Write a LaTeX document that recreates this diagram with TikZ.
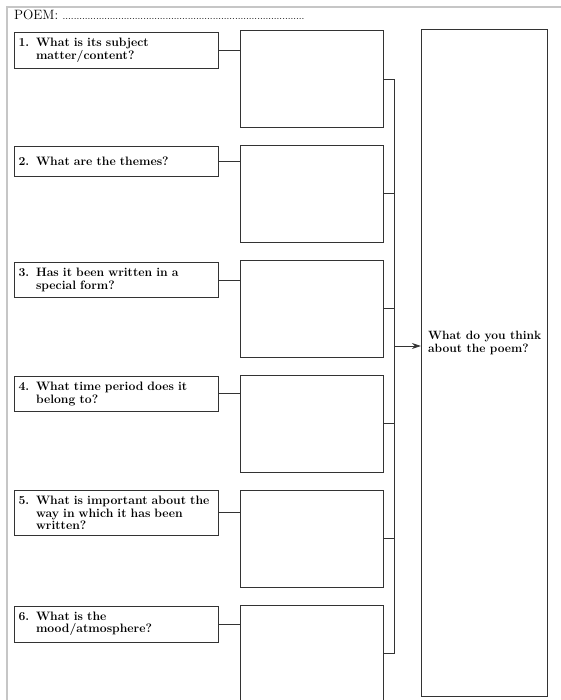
\documentclass[tikz,border=0pt]{standalone}
\usetikzlibrary{positioning,arrows.meta}

\tikzset{
  qbox/.style={draw=black!80, line width=0.9pt, text width=196pt, inner xsep=4pt, inner ysep=6pt,
    minimum height=30pt, align=left, anchor=north east,
    font=\fontsize{12.2}{12.5}\selectfont\bfseries},
  abox/.style={draw=black!80, line width=0.9pt, minimum width=143pt, minimum height=97pt, inner sep=0pt},
  link/.style={draw=black!80, line width=0.8pt},
}
\newcommand{\qnum}[1]{\makebox[17.5pt][l]{#1}}

\begin{document}
\begin{tikzpicture}[x=1pt,y=-1pt]
  \useasboundingbox (0,0) rectangle (561,700);
  % page frame
  \draw[gray!45, line width=1.6pt] (561,7) -- (7,7) -- (7,700);

  \node[anchor=base west, inner sep=0pt, font=\fontsize{13.5}{14}\selectfont] (poem) at (14,20)
    {POEM: {\fontsize{10}{12}\selectfont.......................................................................................}};

  % answer boxes
  \node[abox, anchor=north west] (a1) at (240,30) {};
  \node[abox] (a2) [below=17pt of a1] {};
  \node[abox] (a3) [below=17pt of a2] {};
  \node[abox] (a4) [below=17pt of a3] {};
  \node[abox] (a5) [below=17pt of a4] {};
  \node[abox] (a6) [below=17pt of a5] {};

  \node[abox, minimum width=126pt, minimum height=667pt, anchor=north west] (view)
    at ([xshift=37pt,yshift=1pt]a1.north east) {};

  % questions
  \node[qbox] (q1) at ([xshift=-21pt,yshift=-2pt]a1.north west)
    {\qnum{1.}What is its subject\\\qnum{}matter/content?};
  \node[qbox] (q2) at ([xshift=-21pt,yshift=-1pt]a2.north west)
    {\qnum{2.}What are the themes?};
  \node[qbox] (q3) at ([xshift=-21pt,yshift=-2pt]a3.north west)
    {\qnum{3.}Has it been written in a\\\qnum{}special form?};
  \node[qbox] (q4) at ([xshift=-21pt,yshift=-1pt]a4.north west)
    {\qnum{4.}What time period does it\\\qnum{}belong to?};
  \node[qbox] (q5) at ([xshift=-21pt]a5.north west)
    {\qnum{5.}What is important about the\\\qnum{}way in which it has been\\\qnum{}written?};
  \node[qbox] (q6) at ([xshift=-21pt,yshift=-1pt]a6.north west)
    {\qnum{6.}What is the\\\qnum{}mood/atmosphere?};

  \draw[link] (q1.east) -- (q1.east -| a1.west);
  \draw[link] (q2.east) -- (q2.east -| a2.west);
  \draw[link] (q3.east) -- (q3.east -| a3.west);
  \draw[link] (q4.east) -- (q4.east -| a4.west);
  \draw[link] (q5.east) -- (q5.east -| a5.west);
  \draw[link] (q6.east) -- (q6.east -| a6.west);

  % collecting line
  \coordinate (bus) at (394,346);
  \draw[link] (a1.east) -- (a1.east -| bus) -- (a6.east -| bus) -- (a6.east);
  \draw[link] (a2.east) -- (a2.east -| bus);
  \draw[link] (a3.east) -- (a3.east -| bus);
  \draw[link] (a4.east) -- (a4.east -| bus);
  \draw[link] (a5.east) -- (a5.east -| bus);
  \draw[link, -{Stealth[length=9pt,width=6pt]}] (bus) -- (bus -| view.west);

  \node[anchor=west, align=left, inner sep=2pt, font=\fontsize{12}{12.5}\selectfont\bfseries] (viewtext)
    at ([xshift=5pt,yshift=3pt]bus -| view.west) {What do you think\\about the poem?};
\end{tikzpicture}
\end{document}
